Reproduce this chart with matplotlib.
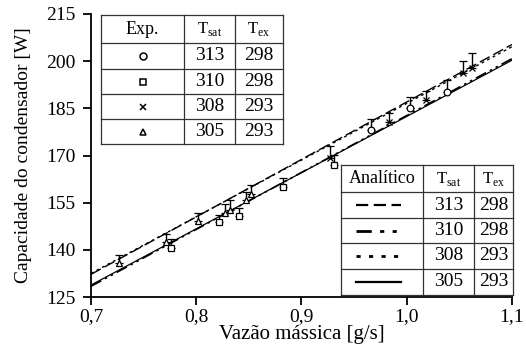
import matplotlib
matplotlib.use('Agg')
import matplotlib.pyplot as plt
from matplotlib.lines import Line2D
from matplotlib.ticker import FuncFormatter

plt.rcParams['font.family'] = 'Liberation Serif'
plt.rcParams['mathtext.fontset'] = 'custom'
plt.rcParams['mathtext.rm'] = 'Liberation Serif'

# experimental points: (x, y, upper error)
circ_x = [0.966, 1.003, 1.038]
circ_y = [178.1, 185.1, 190.2]
circ_e = [3.5, 3.5, 3.8]

sq_x = [0.776, 0.822, 0.841, 0.882, 0.931]
sq_y = [140.6, 148.9, 150.8, 160.0, 167.0]
sq_e = [2.8, 2.3, 2.5, 2.8, 3.2]

cross_x = [0.927, 0.983, 1.018, 1.053, 1.062]
cross_y = [169.3, 180.7, 187.7, 196.2, 197.8]
cross_e = [3.7, 2.8, 2.8, 3.8, 4.8]

tri_x = [0.727, 0.771, 0.802, 0.827, 0.832, 0.847, 0.852]
tri_y = [135.8, 142.5, 149.2, 151.7, 152.7, 155.8, 157.8]
tri_e = [2.4, 2.5, 2.5, 2.9, 3.1, 2.6, 2.8]

# analytical lines (end points)
line_x = [0.7, 1.1]
l313 = [132.2, 205.3]
l310 = [128.4, 200.8]
l308 = [132.5, 204.6]
l305 = [128.8, 200.3]

tsat_exp = ['313', '310', '308', '305']
tex_exp = ['298', '298', '293', '293']
tsat_an = ['313', '310', '308', '305']
tex_an = ['298', '298', '293', '293']

W, H = 526, 353
fig = plt.figure(figsize=(5.26, 3.53), dpi=100)
ax = fig.add_axes([91/W, 1-297/H, (512-91)/W, (297-14)/H])

# lines
ax.plot(line_x, l313, color='black', lw=1.0, dashes=(8, 3))
ax.plot(line_x, l308, color='black', lw=1.0, dashes=(2, 2.5))
ax.plot(line_x, l310, color='black', lw=1.2, dashes=(7, 2.5, 1.5, 2.5, 1.5, 2.5))
ax.plot(line_x, l305, color='black', lw=0.9)

def pts(x, y, e, m):
    ax.errorbar(x, y, yerr=[[0]*len(e), e], fmt=m, color='black', mfc='white',
                mec='black', ms=4.8, mew=0.9, ecolor='black', elinewidth=1.0,
                capsize=2.6, capthick=1.0, zorder=5)

pts(circ_x, circ_y, circ_e, 'o')
pts(sq_x, sq_y, sq_e, 's')
pts(cross_x, cross_y, cross_e, 'x')
pts(tri_x, tri_y, tri_e, '^')

ax.set_xlim(0.7, 1.1)
ax.set_ylim(125, 215)
ax.set_xticks([0.7, 0.8, 0.9, 1.0, 1.1])
ax.set_yticks([125, 140, 155, 170, 185, 200, 215])
ax.xaxis.set_major_formatter(FuncFormatter(lambda v, p: f'{v:.1f}'.replace('.', ',')))
for s in ['top', 'right']:
    ax.spines[s].set_visible(False)
for s in ['left', 'bottom']:
    ax.spines[s].set_linewidth(1.3)
ax.tick_params(direction='out', length=6, width=1.3, labelsize=14)
ax.tick_params(axis='y', pad=5)
ax.tick_params(axis='x', pad=2)
ax.set_xlabel('Vazão mássica [g/s]', fontsize=15, labelpad=0)
ax.set_ylabel('Capacidade do condensador [W]', fontsize=14, labelpad=10)

# tables drawn in figure pixel coordinates
def fx(px):
    return px / W

def fy(py):
    return 1 - py / H

def grid(cols, rows):
    for c in cols:
        fig.add_artist(Line2D([fx(c), fx(c)], [fy(rows[0]), fy(rows[-1])], color='#333333', lw=0.9))
    for r in rows:
        fig.add_artist(Line2D([fx(cols[0]), fx(cols[-1])], [fy(r), fy(r)], color='#333333', lw=0.9))

def rect_bg(cols, rows):
    fig.add_artist(plt.Rectangle((fx(cols[0]), fy(rows[-1])), fx(cols[-1]) - fx(cols[0]),
                                 fy(rows[0]) - fy(rows[-1]), facecolor='white', edgecolor='none'))

# experimental table
cols1 = [101, 184, 235, 283]
rows1 = [15, 43, 69, 94, 119, 144]
rect_bg(cols1, rows1)
grid(cols1, rows1)
cx1 = [(cols1[i] + cols1[i+1]) / 2 for i in range(3)]
cy1 = [(rows1[i] + rows1[i+1]) / 2 for i in range(5)]
fig.text(fx(cx1[0]), fy(cy1[0]), 'Exp.', ha='center', va='center', fontsize=13)
fig.text(fx(cx1[1]), fy(cy1[0]), r'T$_{\mathrm{sat}}$', ha='center', va='center', fontsize=12)
fig.text(fx(cx1[2]), fy(cy1[0]), r'T$_{\mathrm{ex}}$', ha='center', va='center', fontsize=12)
for i, m in enumerate(['o', 's', 'x', '^']):
    fig.add_artist(Line2D([fx(cx1[0])], [fy(cy1[i+1])], marker=m, ms=5, mfc='white',
                          mec='black', mew=1.1, color='black'))
    fig.text(fx(cx1[1]), fy(cy1[i+1]), tsat_exp[i], ha='center', va='center', fontsize=14)
    fig.text(fx(cx1[2]), fy(cy1[i+1]), tex_exp[i], ha='center', va='center', fontsize=14)

# analytical table
cols2 = [341, 423, 474, 513]
rows2 = [165, 192, 218, 243, 269, 295]
rect_bg(cols2, rows2)
grid(cols2, rows2)
cx2 = [(cols2[i] + cols2[i+1]) / 2 for i in range(3)]
cy2 = [(rows2[i] + rows2[i+1]) / 2 for i in range(5)]
fig.text(fx(cx2[0]), fy(cy2[0]), 'Analítico', ha='center', va='center', fontsize=13)
fig.text(fx(cx2[1]), fy(cy2[0]), r'T$_{\mathrm{sat}}$', ha='center', va='center', fontsize=12)
fig.text(fx(cx2[2]), fy(cy2[0]), r'T$_{\mathrm{ex}}$', ha='center', va='center', fontsize=12)
styles = [dict(dashes=(5.5, 2.5), lw=1.6),
          dict(dashes=(5.5, 3, 1.5, 3, 1.5, 3), lw=2.0),
          dict(dashes=(1.5, 3), lw=2.0),
          dict(lw=1.6)]
for i, st in enumerate(styles):
    fig.add_artist(Line2D([fx(356), fx(401)], [fy(cy2[i+1]), fy(cy2[i+1])], color='black', **st))
    fig.text(fx(cx2[1]), fy(cy2[i+1]), tsat_an[i], ha='center', va='center', fontsize=14)
    fig.text(fx(cx2[2]), fy(cy2[i+1]), tex_an[i], ha='center', va='center', fontsize=14)

fig.savefig('out.png', dpi=100)
